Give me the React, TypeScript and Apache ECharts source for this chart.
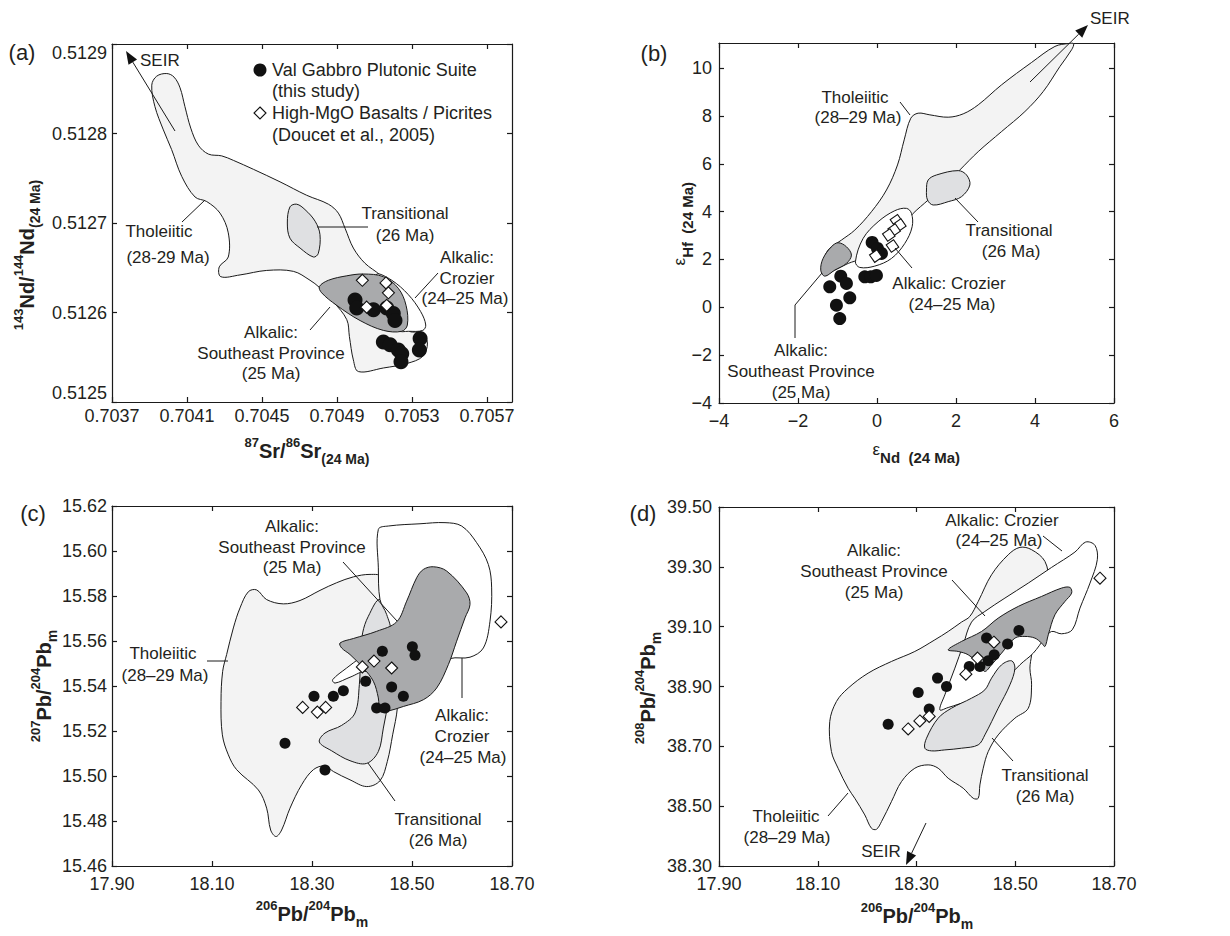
import React, { useEffect, useRef } from "react";
import * as echarts from "echarts";

type Pt = [number, number];

// ---------------- (a) 87Sr/86Sr vs 143Nd/144Nd ----------------
const A_X_RANGE = [0.7037, 0.705833];
const A_Y_RANGE = [0.5125, 0.5129];
const A_X_TICKS = [0.7037, 0.7041, 0.7045, 0.7049, 0.7053, 0.7057];
const A_Y_TICKS = [0.5125, 0.5126, 0.5127, 0.5128, 0.5129];
const A_VGPS: Pt[] = [
  [0.704996, 0.512614], [0.705005, 0.512605], [0.705094, 0.512603], [0.705165, 0.512605],
  [0.7052, 0.512599], [0.705209, 0.512591], [0.705147, 0.512567], [0.705183, 0.512564],
  [0.705227, 0.512558], [0.705245, 0.512554], [0.705241, 0.512545], [0.705343, 0.512571],
  [0.705339, 0.512558],
];
const A_DOUCET: Pt[] = [
  [0.705035, 0.512636], [0.705161, 0.512633], [0.705174, 0.512622], [0.705058, 0.512606], [0.705165, 0.512608],
];
const A_THOL: Pt[] = [
  [0.703938, 0.512864], [0.703992, 0.512867], [0.704031, 0.512863], [0.704063, 0.512851], [0.704089, 0.51283],
  [0.70412, 0.512806], [0.70416, 0.512787], [0.704214, 0.512777], [0.704285, 0.512775], [0.704347, 0.51277],
  [0.704454, 0.51276], [0.704596, 0.512746], [0.704738, 0.512731], [0.704854, 0.512721], [0.704907, 0.512711],
  [0.704943, 0.512694], [0.704987, 0.512672], [0.705049, 0.512655], [0.705129, 0.512642], [0.705183, 0.512629],
  [0.705236, 0.512607], [0.70528, 0.51258], [0.705352, 0.512577], [0.705382, 0.512566], [0.705357, 0.512551],
  [0.705272, 0.512543], [0.705147, 0.512538], [0.705014, 0.512534], [0.704987, 0.512547], [0.704966, 0.512573],
  [0.704952, 0.512592], [0.70488, 0.512612], [0.704806, 0.512628], [0.704756, 0.512636], [0.704667, 0.512646],
  [0.704525, 0.512647], [0.704383, 0.512642], [0.70428, 0.51264], [0.704272, 0.512651], [0.70432, 0.512662],
  [0.70432, 0.512689], [0.704276, 0.512711], [0.704205, 0.512724], [0.704143, 0.512729], [0.704072, 0.512752],
  [0.704018, 0.512782], [0.703974, 0.512804], [0.703929, 0.51283], [0.703912, 0.512854],
];
const A_TRANS: Pt[] = [
  [0.704649, 0.512718], [0.704685, 0.512721], [0.704729, 0.512715], [0.704783, 0.512702], [0.704809, 0.512687],
  [0.7048, 0.512666], [0.704774, 0.512662], [0.704703, 0.512672], [0.704649, 0.512683], [0.704635, 0.5127],
];
const A_SEP: Pt[] = [
  [0.704806, 0.512629], [0.704854, 0.512636], [0.704952, 0.512641], [0.70504, 0.512643], [0.705147, 0.51264],
  [0.705227, 0.512627], [0.705268, 0.512608], [0.705275, 0.512586], [0.705245, 0.512579], [0.705147, 0.51258],
  [0.705023, 0.512591], [0.704898, 0.512608], [0.704818, 0.512622],
];
const A_CROZ: Pt[] = [
  [0.705112, 0.512643], [0.705192, 0.512636], [0.70528, 0.51262], [0.705346, 0.512601], [0.705373, 0.512586],
  [0.705357, 0.51258], [0.70528, 0.512579], [0.705227, 0.51258], [0.705209, 0.512599], [0.705147, 0.512625],
];

// ---------------- (b) eNd vs eHf ----------------
const B_X_RANGE = [-4, 6];
const B_Y_RANGE = [-4, 11.05];
const B_X_TICKS = [-4, -2, 0, 2, 4, 6];
const B_Y_TICKS = [-4, -2, 0, 2, 4, 6, 8, 10];
const B_VGPS: Pt[] = [
  [-0.123, 2.714], [0.012, 2.462], [0.113, 2.253], [-0.309, 1.276], [-0.157, 1.276], [-0.014, 1.331],
  [-1.196, 0.857], [-0.917, 1.303], [-0.774, 0.997], [-1.027, 0.089], [-0.689, 0.396], [-0.943, -0.469],
];
const B_DOUCET: Pt[] = [
  [0.493, 3.621], [0.578, 3.439], [0.434, 3.23], [0.299, 3.021], [0.392, 2.56], [-0.03, 2.141],
];
const B_THOL: Pt[] = [
  [-1.365, 1.834], [-1.238, 2.393], [-0.9, 2.811], [-0.562, 3.23], [-0.14, 3.998], [0.24, 4.905], [0.519, 5.952],
  [0.688, 6.999], [0.856, 7.906], [1.042, 8.116], [1.338, 8.046], [1.802, 7.948], [2.182, 8.088], [2.563, 8.465],
  [3.154, 9.302], [3.914, 10.237], [4.505, 10.907], [4.86, 11.03], [4.978, 11.02], [4.927, 10.768], [4.632, 10.07],
  [4.209, 9.023], [3.745, 8.185], [3.154, 7.348], [2.563, 6.51], [2.098, 5.743], [1.718, 5.115], [1.296, 4.486],
  [0.916, 3.928], [0.62, 3.37], [0.113, 2.672], [-0.394, 2.044], [-0.731, 1.834], [-1.069, 1.555], [-1.323, 1.346],
];
const B_CROZ: Pt[] = [
  [-0.546, 1.904], [-0.351, 2.881], [0.029, 3.579], [0.451, 4.04], [0.747, 4.137], [0.873, 3.928], [0.89, 3.37],
  [0.704, 2.672], [0.367, 2.044], [-0.056, 1.723], [-0.436, 1.667],
];
const B_SEP: Pt[] = [
  [-1.424, 1.555], [-1.365, 2.044], [-1.154, 2.532], [-0.985, 2.7], [-0.774, 2.532], [-0.647, 2.183],
  [-0.774, 1.834], [-1.069, 1.555], [-1.323, 1.304],
];
const B_TRANS: Pt[] = [
  [1.296, 5.324], [1.507, 5.533], [2.056, 5.715], [2.267, 5.533], [2.351, 5.115], [2.14, 4.626], [1.802, 4.417],
  [1.422, 4.277], [1.279, 4.486], [1.253, 4.905],
];

// ---------------- (c) 206Pb/204Pb vs 207Pb/204Pb ----------------
const C_X_RANGE = [17.9, 18.7];
const C_Y_RANGE = [15.46, 15.62];
const C_X_TICKS = [17.9, 18.1, 18.3, 18.5, 18.7];
const C_Y_TICKS = [15.46, 15.48, 15.5, 15.52, 15.54, 15.56, 15.58, 15.6, 15.62];
const C_VGPS: Pt[] = [
  [18.246, 15.5146], [18.326, 15.5027], [18.304, 15.5354], [18.3427, 15.5354], [18.3627, 15.5379],
  [18.4073, 15.5421], [18.4407, 15.5554], [18.4293, 15.5302], [18.446, 15.5302], [18.4593, 15.5396],
  [18.4827, 15.5354], [18.5007, 15.5574], [18.506, 15.5537],
];
const C_DOUCET: Pt[] = [
  [18.2813, 15.5305], [18.3107, 15.5284], [18.3273, 15.5305], [18.4007, 15.5485], [18.424, 15.5511],
  [18.4593, 15.548], [18.678, 15.5685],
];
const C_THOL: Pt[] = [
  [18.1727, 15.5819], [18.1893, 15.5827], [18.2093, 15.5784], [18.2427, 15.5765], [18.276, 15.578],
  [18.316, 15.5825], [18.3493, 15.5859], [18.3827, 15.5885], [18.416, 15.5896], [18.4427, 15.5884],
  [18.4627, 15.5777], [18.476, 15.5554], [18.4707, 15.5302], [18.4613, 15.5183], [18.4507, 15.5065],
  [18.436, 15.4979], [18.4093, 15.4953], [18.376, 15.4983], [18.3427, 15.502], [18.326, 15.5045],
  [18.3027, 15.5028], [18.2793, 15.4961], [18.256, 15.4857], [18.2393, 15.476], [18.228, 15.4731],
  [18.2173, 15.476], [18.2093, 15.4857], [18.1927, 15.4938], [18.1493, 15.5028], [18.1327, 15.5094],
  [18.1207, 15.5183], [18.118, 15.5332], [18.1213, 15.5465], [18.1293, 15.554], [18.1427, 15.5658],
  [18.156, 15.5747],
];
const C_TRANS: Pt[] = [
  [18.436, 15.5784], [18.4127, 15.571], [18.4013, 15.5636], [18.3973, 15.554], [18.3947, 15.5406],
  [18.386, 15.528], [18.3593, 15.5225], [18.326, 15.5191], [18.3147, 15.5151], [18.3393, 15.5112],
  [18.376, 15.5068], [18.4093, 15.5056], [18.4327, 15.5109], [18.4427, 15.5213], [18.4527, 15.5332],
  [18.4627, 15.548], [18.466, 15.5658],
];
const C_CROZ: Pt[] = [
  [18.4327, 15.6096], [18.4527, 15.6111], [18.516, 15.6121], [18.566, 15.6126], [18.5993, 15.6111],
  [18.6293, 15.6037], [18.6527, 15.594], [18.6593, 15.5836], [18.656, 15.5688], [18.6427, 15.5569],
  [18.616, 15.5528], [18.576, 15.5522], [18.5427, 15.548], [18.476, 15.5421], [18.4093, 15.5465],
  [18.376, 15.5439], [18.346, 15.5413], [18.3413, 15.5428], [18.3693, 15.548], [18.396, 15.5525],
  [18.4293, 15.5584], [18.456, 15.5643], [18.4493, 15.5718], [18.436, 15.5784], [18.4327, 15.5925],
];
const C_SEP: Pt[] = [
  [18.356, 15.5591], [18.3827, 15.5611], [18.4293, 15.5643], [18.4693, 15.5685], [18.4893, 15.5777],
  [18.5093, 15.5881], [18.5227, 15.5918], [18.5427, 15.593], [18.5693, 15.5911], [18.6093, 15.5814],
  [18.616, 15.5762], [18.606, 15.5703], [18.5893, 15.5599], [18.5727, 15.5495], [18.5493, 15.5391],
  [18.5227, 15.5339], [18.4827, 15.5309], [18.4493, 15.5287], [18.436, 15.5287], [18.4327, 15.5347],
  [18.4227, 15.5421], [18.4027, 15.548], [18.376, 15.554], [18.3593, 15.5569],
];

// ---------------- (d) 206Pb/204Pb vs 208Pb/204Pb ----------------
const D_X_RANGE = [17.9, 18.7];
const D_Y_RANGE = [38.3, 39.5];
const D_X_TICKS = [17.9, 18.1, 18.3, 18.5, 18.7];
const D_Y_TICKS = [38.3, 38.5, 38.7, 38.9, 39.1, 39.3, 39.5];
const D_VGPS: Pt[] = [
  [18.2426, 38.774], [18.3034, 38.88], [18.3257, 38.825], [18.3426, 38.928], [18.3608, 38.9],
  [18.4068, 38.967], [18.4284, 38.967], [18.4419, 39.062], [18.4453, 38.986], [18.4574, 39.006],
  [18.4845, 39.042], [18.5074, 39.087],
];
const D_DOUCET: Pt[] = [
  [18.2831, 38.758], [18.3068, 38.785], [18.3257, 38.8], [18.4, 38.941], [18.4236, 38.995],
  [18.4568, 39.048], [18.6716, 39.262],
];
const D_THOL: Pt[] = [
  [18.1243, 38.7829], [18.1378, 38.8498], [18.1615, 38.8944], [18.202, 38.9446], [18.2493, 38.9837],
  [18.2966, 39.0171], [18.3372, 39.0561], [18.3642, 39.084], [18.3912, 39.1153], [18.4081, 39.1342],
  [18.425, 39.1844], [18.452, 39.2736], [18.4858, 39.3405], [18.5095, 39.3651], [18.5331, 39.3573],
  [18.5601, 39.3182], [18.5669, 39.2513], [18.5534, 39.1621], [18.5365, 39.0729], [18.5331, 39.006],
  [18.5297, 38.9614], [18.5331, 38.9056], [18.5264, 38.8275], [18.4993, 38.7941], [18.4655, 38.7383],
  [18.4453, 38.6826], [18.4351, 38.6268], [18.4284, 38.571], [18.425, 38.5264], [18.4149, 38.5264],
  [18.3946, 38.5599], [18.3642, 38.5933], [18.3439, 38.6268], [18.3236, 38.638], [18.2966, 38.6268],
  [18.2696, 38.5822], [18.2493, 38.5153], [18.2291, 38.4484], [18.2189, 38.4227], [18.2088, 38.4261],
  [18.1953, 38.4707], [18.175, 38.5264], [18.1615, 38.5599], [18.1412, 38.6268], [18.1277, 38.6826],
];
const D_CROZ: Pt[] = [
  [18.3473, 38.822], [18.3574, 38.8721], [18.3777, 38.9614], [18.3946, 39.0394], [18.4115, 39.1153],
  [18.4385, 39.1509], [18.4791, 39.1956], [18.5264, 39.2457], [18.5736, 39.2981], [18.6209, 39.3494],
  [18.6426, 39.3829], [18.6615, 39.3718], [18.6662, 39.3238], [18.6514, 39.2457], [18.6311, 39.1621],
  [18.6155, 39.0896], [18.5939, 39.0762], [18.5736, 39.084], [18.5601, 39.0617], [18.5365, 39.0115],
  [18.5095, 38.9725], [18.4723, 38.9056], [18.4453, 38.8365], [18.4047, 38.8476], [18.3642, 38.8298],
];
const D_SEP: Pt[] = [
  [18.3642, 39.0227], [18.3912, 39.0506], [18.4318, 39.084], [18.4655, 39.1286], [18.5061, 39.1677],
  [18.5534, 39.2011], [18.5939, 39.229], [18.6108, 39.2312], [18.6142, 39.2123], [18.6007, 39.1844],
  [18.5804, 39.1398], [18.5669, 39.0729], [18.5601, 39.0338], [18.5534, 39.045], [18.5399, 39.0617],
  [18.5196, 39.0673], [18.4993, 39.0617], [18.4723, 39.0115], [18.452, 38.9725], [18.4385, 38.9502],
  [18.4284, 38.9725], [18.4047, 39.006], [18.3845, 39.0171],
];
const D_TRANS: Pt[] = [
  [18.3169, 38.6937], [18.3203, 38.7272], [18.3439, 38.7941], [18.3709, 38.8275], [18.4115, 38.861],
  [18.4385, 38.8889], [18.452, 38.9279], [18.4723, 38.9725], [18.4926, 38.9859], [18.4993, 38.9614],
  [18.4892, 38.9056], [18.4655, 38.8275], [18.4385, 38.7383], [18.425, 38.7049], [18.3912, 38.6937],
  [18.3574, 38.6881], [18.3304, 38.6848],
];

// ---------------- styling ----------------
const FONT = '"Liberation Sans", Arial, Helvetica, sans-serif';
const INK = "#231f20";
const LINE = "#1a1a1a";
const C_THOLF = "#f3f3f3";
const C_TRANSF = "#dfe0e2";
const C_SEPF = "#a9aaac";
const C_CROZF = "#ffffff";

const axisLineStyle = { color: LINE, width: 1.2 };

function mkX(gi: number, range: number[], ticks: number[], fmt: (v: number) => string, margin: number) {
  return [
    {
      type: "value", gridIndex: gi, min: range[0], max: range[1], position: "bottom",
      axisLine: { show: true, onZero: false, lineStyle: axisLineStyle },
      axisTick: { show: true, inside: true, length: 5, customValues: ticks, lineStyle: axisLineStyle },
      axisLabel: { show: true, customValues: ticks, formatter: fmt, margin, fontSize: 18, fontFamily: FONT, color: INK },
      splitLine: { show: false },
    },
    {
      type: "value", gridIndex: gi, min: range[0], max: range[1], position: "top",
      axisLine: { show: true, onZero: false, lineStyle: axisLineStyle },
      axisTick: { show: true, inside: true, length: 5, customValues: ticks, lineStyle: axisLineStyle },
      axisLabel: { show: false },
      splitLine: { show: false },
    },
  ];
}
function mkY(gi: number, range: number[], ticks: number[], fmt: (v: number) => string, margin: number, endsInside = false) {
  const label: any = { show: true, customValues: ticks, formatter: fmt, margin, fontSize: 18, fontFamily: FONT, color: INK };
  if (endsInside) {
    label.verticalAlignMinLabel = "bottom";
    label.verticalAlignMaxLabel = "top";
  }
  return [
    {
      type: "value", gridIndex: gi, min: range[0], max: range[1], position: "left",
      axisLine: { show: true, onZero: false, lineStyle: axisLineStyle },
      axisTick: { show: true, inside: true, length: 5, customValues: ticks, lineStyle: axisLineStyle },
      axisLabel: label,
      splitLine: { show: false },
    },
    {
      type: "value", gridIndex: gi, min: range[0], max: range[1], position: "right",
      axisLine: { show: true, onZero: false, lineStyle: axisLineStyle },
      axisTick: { show: true, inside: true, length: 5, customValues: ticks, lineStyle: axisLineStyle },
      axisLabel: { show: false },
      splitLine: { show: false },
    },
  ];
}

const f4 = (v: number) => v.toFixed(4);
const f2 = (v: number) => v.toFixed(2);
const fi = (v: number) => (v < 0 ? "\u2212" + Math.abs(Math.round(v)) : String(Math.round(v)));

function field(points: Pt[], i: number, fill: string) {
  return {
    type: "custom", xAxisIndex: 2 * i, yAxisIndex: 2 * i, z: 1, silent: true,
    data: points,
    renderItem: (params: any, api: any) => {
      if (params.dataIndex !== 0) return { type: "group", children: [] };
      return {
        type: "polygon",
        shape: { points: points.map((p) => api.coord(p)), smooth: 0.35 },
        style: { fill, stroke: LINE, lineWidth: 1 },
      };
    },
  };
}
function dots(points: Pt[], i: number, size: number) {
  return {
    type: "scatter", xAxisIndex: 2 * i, yAxisIndex: 2 * i, z: 3, silent: true, data: points,
    symbol: "circle", symbolSize: size, itemStyle: { color: "#111", opacity: 1 },
  };
}
function opens(points: Pt[], i: number, size: number, symbol = "diamond", rotate = 0) {
  return {
    type: "scatter", xAxisIndex: 2 * i, yAxisIndex: 2 * i, z: 4, silent: true, data: points,
    symbol, symbolSize: size, symbolRotate: rotate,
    itemStyle: { color: "#ffffff", borderColor: "#111", borderWidth: 1.1, opacity: 1 },
  };
}

// ---------- graphic helpers (annotations) ----------
function txt(x: number, y: number, text: string, align = "center", size = 17, extra: any = {}) {
  return {
    type: "text", x, y, z: 100, silent: true,
    style: { text, fill: INK, fontSize: size, fontFamily: FONT, align, verticalAlign: "middle", ...extra },
  };
}
function seg(pts: number[][]) {
  return { type: "polyline", z: 100, silent: true, shape: { points: pts }, style: { stroke: LINE, lineWidth: 1, fill: null } };
}
function arrow(x1: number, y1: number, x2: number, y2: number) {
  const dx = x2 - x1, dy = y2 - y1, L = Math.hypot(dx, dy);
  const ux = dx / L, uy = dy / L;
  const head = 13, half = 5;
  const bx = x2 - ux * head, by = y2 - uy * head;
  const px = -uy * half, py = ux * half;
  return [
    seg([[x1, y1], [bx, by]]),
    { type: "polygon", z: 100, silent: true, shape: { points: [[x2, y2], [bx + px, by + py], [bx - px, by - py]] }, style: { fill: "#111" } },
  ];
}
const titleRich = {
  b: { fontSize: 20, fontWeight: "bold", fontFamily: FONT, fill: INK, lineHeight: 30 },
  sup: { fontSize: 13, fontWeight: "bold", fontFamily: FONT, fill: INK, lineHeight: 14, verticalAlign: "top" },
  sub: { fontSize: 14, fontWeight: "bold", fontFamily: FONT, fill: INK, lineHeight: 14, verticalAlign: "bottom" },
  eps: { fontSize: 17, fontFamily: FONT, fill: INK, lineHeight: 16, verticalAlign: "top" },
  nd: { fontSize: 15, fontWeight: "bold", fontFamily: FONT, fill: INK, lineHeight: 16, verticalAlign: "bottom" },
  s: { fontSize: 2, lineHeight: 24 },
};
function title(x: number, y: number, text: string, rot = 0) {
  return {
    type: "text", x, y, rotation: rot, z: 100, silent: true,
    style: { text, rich: titleRich, align: "center", verticalAlign: "middle", fill: INK, fontFamily: FONT },
  };
}

export default function App() {
  const ref = useRef<HTMLDivElement>(null);
  useEffect(() => {
    if (!ref.current) return;
    const chart = echarts.init(ref.current, null, { renderer: "svg" });

    const graphics: any[] = [
      // panel letters
      txt(22, 52, "(a)", "center", 22),
      txt(654, 53, "(b)", "center", 22),
      txt(33, 513, "(c)", "center", 22),
      txt(643, 513, "(d)", "center", 22),

      // axis titles
      title(307, 451, "{sup|87}{b|Sr/}{sup|86}{b|Sr}{sub|(24 Ma)}"),
      title(27, 255, "{sup|143}{b|Nd/}{sup|144}{b|Nd}{sub|(24 Ma)}", Math.PI / 2),
      title(916, 453, "{s| }{eps|\u03b5}{nd|Nd  (24 Ma)}"),
      title(683, 224, "{s| }{eps|\u03b5}{nd|Hf  (24 Ma)}", Math.PI / 2),
      title(312, 914, "{sup|206}{b|Pb/}{sup|204}{b|Pb}{sub|m}"),
      title(44, 686, "{sup|207}{b|Pb/}{sup|204}{b|Pb}{sub|m}", Math.PI / 2),
      title(917, 916, "{sup|206}{b|Pb/}{sup|204}{b|Pb}{sub|m}"),
      title(648, 688, "{sup|208}{b|Pb/}{sup|204}{b|Pb}{sub|m}", Math.PI / 2),

      // ---- (a) annotations ----
      ...arrow(175, 131, 126, 51),
      txt(140, 60, "SEIR", "left"),
      txt(159, 231, "Tholeiitic"),
      txt(168, 257, "(28-29 Ma)"),
      seg([[182, 222], [205, 200]]),
      txt(405, 213, "Transitional"),
      txt(405, 235, "(26 Ma)"),
      seg([[317, 227], [368, 227]]),
      txt(467, 257, "Alkalic:"),
      txt(467, 278, "Crozier"),
      txt(465, 298, "(24\u201325 Ma)"),
      seg([[415, 298], [438, 273]]),
      txt(271, 332, "Alkalic:"),
      txt(271, 353, "Southeast Province"),
      txt(271, 373, "(25 Ma)"),
      seg([[310, 330], [330, 307]]),
      // legend (a)
      { type: "circle", z: 100, silent: true, shape: { cx: 260, cy: 70, r: 6.5 }, style: { fill: "#111" } },
      txt(272, 70, "Val Gabbro Plutonic Suite", "left", 18),
      txt(272, 91, "(this study)", "left", 18),
      { type: "polygon", z: 100, silent: true, shape: { points: [[260, 107], [266, 113], [260, 119], [254, 113]] }, style: { fill: "#fff", stroke: "#111", lineWidth: 1.1 } },
      txt(272, 113, "High-MgO Basalts / Picrites", "left", 18),
      txt(272, 135, "(Doucet et al., 2005)", "left", 18),

      // ---- (b) annotations ----
      ...arrow(1030, 82, 1088, 25),
      txt(1090, 18, "SEIR", "left"),
      txt(855, 97, "Tholeiitic"),
      txt(858, 117, "(28\u201329 Ma)"),
      seg([[900, 102], [910, 115]]),
      txt(1009, 230, "Transitional"),
      txt(1011, 251, "(26 Ma)"),
      seg([[955, 198], [978, 222]]),
      txt(949, 283, "Alkalic: Crozier"),
      txt(952, 304, "(24\u201325 Ma)"),
      seg([[895, 248], [912, 268]]),
      txt(801, 350, "Alkalic:"),
      txt(801, 371, "Southeast Province"),
      txt(801, 392, "(25 Ma)"),
      seg([[795, 338], [795, 305], [822, 273]]),

      // ---- (c) annotations ----
      txt(292, 526, "Alkalic:"),
      txt(292, 547, "Southeast Province"),
      txt(292, 567, "(25 Ma)"),
      seg([[343, 562], [397, 621]]),
      txt(163, 653, "Tholeiitic"),
      txt(165, 675, "(28\u201329 Ma)"),
      seg([[207, 661], [228, 661]]),
      txt(462, 715, "Alkalic:"),
      txt(462, 736, "Crozier"),
      txt(463, 757, "(24\u201325 Ma)"),
      seg([[462, 658], [462, 698]]),
      txt(438, 819, "Transitional"),
      txt(438, 840, "(26 Ma)"),
      seg([[368, 763], [395, 801]]),

      // ---- (d) annotations ----
      txt(1002, 520, "Alkalic: Crozier"),
      txt(999, 540, "(24\u201325 Ma)"),
      seg([[1043, 536], [1062, 551]]),
      txt(874, 550, "Alkalic:"),
      txt(874, 571, "Southeast Province"),
      txt(874, 592, "(25 Ma)"),
      seg([[952, 580], [985, 616]]),
      txt(1045, 775, "Transitional"),
      txt(1045, 796, "(26 Ma)"),
      seg([[992, 738], [1013, 761]]),
      txt(786, 816, "Tholeiitic"),
      txt(787, 837, "(28\u201329 Ma)"),
      seg([[828, 816], [848, 793]]),
      ...arrow(926, 823, 906, 865),
      txt(881, 851, "SEIR"),
    ];

    const option: any = {
      animation: false,
      backgroundColor: "#ffffff",
      textStyle: { fontFamily: FONT },
      grid: [
        { left: 112, top: 44, width: 400, height: 358 },
        { left: 719, top: 43, width: 395, height: 360 },
        { left: 112, top: 506, width: 400, height: 360 },
        { left: 719, top: 507, width: 395, height: 359 },
      ],
      xAxis: [
        ...mkX(0, A_X_RANGE, A_X_TICKS, f4, 5),
        ...mkX(1, B_X_RANGE, B_X_TICKS, fi, 9),
        ...mkX(2, C_X_RANGE, C_X_TICKS, f2, 9),
        ...mkX(3, D_X_RANGE, D_X_TICKS, f2, 9),
      ],
      yAxis: [
        ...mkY(0, A_Y_RANGE, A_Y_TICKS, f4, 5, true),
        ...mkY(1, B_Y_RANGE, B_Y_TICKS, fi, 7),
        ...mkY(2, C_Y_RANGE, C_Y_TICKS, f2, 5),
        ...mkY(3, D_Y_RANGE, D_Y_TICKS, f2, 7),
      ],
      series: [
        field(A_THOL, 0, C_THOLF),
        field(A_CROZ, 0, C_CROZF),
        field(A_TRANS, 0, C_TRANSF),
        field(A_SEP, 0, C_SEPF),
        dots(A_VGPS, 0, 15),
        opens(A_DOUCET, 0, 12),

        field(B_THOL, 1, C_THOLF),
        field(B_CROZ, 1, C_CROZF),
        field(B_TRANS, 1, C_TRANSF),
        field(B_SEP, 1, C_SEPF),
        dots(B_VGPS, 1, 13),
        opens(B_DOUCET, 1, 9, "rect", 35),

        field(C_THOL, 2, C_THOLF),
        field(C_TRANS, 2, C_TRANSF),
        field(C_CROZ, 2, C_CROZF),
        field(C_SEP, 2, C_SEPF),
        dots(C_VGPS, 2, 11),
        opens(C_DOUCET, 2, 12),

        field(D_THOL, 3, C_THOLF),
        field(D_CROZ, 3, C_CROZF),
        field(D_TRANS, 3, C_TRANSF),
        field(D_SEP, 3, C_SEPF),
        dots(D_VGPS, 3, 11),
        opens(D_DOUCET, 3, 12),
      ],
      graphic: graphics,
    };
    chart.setOption(option);
    return () => chart.dispose();
  }, []);

  return (
    <div
      ref={ref}
      style={{ position: "absolute", left: 0, top: 0, width: 1230, height: 936, background: "#fff" }}
    />
  );
}
